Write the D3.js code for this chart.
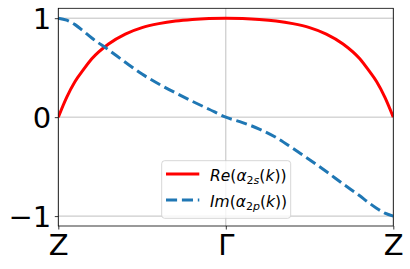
<!DOCTYPE html>
<html>
<head>
<meta charset="utf-8">
<script src="https://cdn.jsdelivr.net/npm/d3@7"></script>
<style>
  html, body { margin: 0; padding: 0; background: #fff; }
  svg { display: block; font-family: 'DejaVu Sans', sans-serif; }
</style>
</head>
<body>
<div id="canvas"></div>
<script>
// k runs from Z (-1) through Gamma (0) to Z (1)
var kValues = [-1, -0.95, -0.9, -0.85, -0.8, -0.7, -0.6, -0.5, -0.4, -0.3, -0.2, -0.1, 0,
  0.1, 0.2, 0.3, 0.4, 0.5, 0.6, 0.7, 0.8, 0.85, 0.9, 0.95, 1]
var reAlpha2s = [0, 0.2, 0.36, 0.48, 0.59, 0.74, 0.84, 0.905, 0.945, 0.972, 0.988, 0.997, 1.0,
  0.997, 0.988, 0.972, 0.945, 0.905, 0.84, 0.74, 0.59, 0.48, 0.36, 0.2, 0]
var imAlpha2p = [1.0, 0.98, 0.935, 0.87, 0.8, 0.68, 0.555, 0.435, 0.335, 0.245, 0.16, 0.08, 0,
  -0.055, -0.12, -0.205, -0.315, -0.43, -0.55, -0.675, -0.795, -0.86, -0.92, -0.97, -1.0]
var xTicks = [-1, 0, 1]
var xTickLabels = ['Z', 'Γ', 'Z']
var yTicks = [-1, 0, 1]
var yTickLabels = ['−1', '0', '1']

;(function () {
  var width = 410,
    height = 269,
    left = 58.3,
    right = 393.3,
    top = 8.3,
    bottom = 226

  var svg = d3.select('#canvas').append('svg')
    .attr('width', width)
    .attr('height', height)

  var x = d3.scaleLinear().domain([-1, 1]).range([left, right])
  var y = d3.scaleLinear().domain([-1.1, 1.1]).range([bottom, top])

  svg.append('clipPath').attr('id', 'plotclip')
    .append('rect')
    .attr('x', left).attr('y', top)
    .attr('width', right - left).attr('height', bottom - top)

  // grid
  var grid = svg.append('g').attr('stroke', '#b0b0b0').attr('stroke-width', 0.8)
  grid.selectAll('.gx').data(xTicks).enter().append('line')
    .attr('x1', function (d) { return x(d) }).attr('x2', function (d) { return x(d) })
    .attr('y1', top).attr('y2', bottom)
  grid.selectAll('.gy').data(yTicks).enter().append('line')
    .attr('x1', left).attr('x2', right)
    .attr('y1', function (d) { return y(d) }).attr('y2', function (d) { return y(d) })

  // curves
  var line = function (vals) {
    return d3.line()
      .x(function (d, i) { return x(kValues[i]) })
      .y(function (d) { return y(d) })
      .curve(d3.curveMonotoneX)(vals)
  }
  var plot = svg.append('g').attr('clip-path', 'url(#plotclip)')
  plot.append('path')
    .attr('d', line(reAlpha2s))
    .attr('fill', 'none')
    .attr('stroke', '#ff0000')
    .attr('stroke-width', 3)
  plot.append('path')
    .attr('d', line(imAlpha2p))
    .attr('fill', 'none')
    .attr('stroke', '#1f77b4')
    .attr('stroke-width', 3)
    .attr('stroke-dasharray', '11.1,4.8')

  // axes
  var xAxis = d3.axisBottom(x).tickValues(xTicks).tickSize(3.5).tickPadding(3.5)
    .tickFormat(function (d, i) { return xTickLabels[i] })
  var yAxis = d3.axisLeft(y).tickValues(yTicks).tickSize(3.5).tickPadding(3.5)
    .tickFormat(function (d, i) { return yTickLabels[i] })

  var gx = svg.append('g').attr('transform', 'translate(0,' + bottom + ')').call(xAxis)
  var gy = svg.append('g').attr('transform', 'translate(' + left + ',0)').call(yAxis)
  ;[gx, gy].forEach(function (g) {
    g.select('.domain').remove()
    g.selectAll('.tick line').attr('stroke', '#000').attr('stroke-width', 0.8)
    g.selectAll('.tick text')
      .attr('fill', '#000')
      .attr('font-family', 'DejaVu Sans')
      .attr('font-size', '29px')
  })
  gx.selectAll('.tick text').attr('dy', '0.75em')
  gy.selectAll('.tick text').attr('dy', '0.36em')

  svg.append('rect')
    .attr('x', left).attr('y', top)
    .attr('width', right - left).attr('height', bottom - top)
    .attr('fill', 'none')
    .attr('stroke', '#000')
    .attr('stroke-width', 0.8)

  // legend
  var legendItems = [
    { name: 'Re', sub: '2s', color: '#ff0000', dash: null },
    { name: 'Im', sub: '2p', color: '#1f77b4', dash: '11.1,4.8' }
  ]
  var lg = svg.append('g')
  lg.append('rect')
    .attr('x', 161.7).attr('y', 160.7)
    .attr('width', 129).attr('height', 57.6)
    .attr('rx', 3)
    .attr('fill', '#fff').attr('fill-opacity', 0.8)
    .attr('stroke', '#cccccc').attr('stroke-width', 0.8)

  var row = lg.selectAll('.row').data(legendItems).enter().append('g')
    .attr('transform', function (d, i) { return 'translate(0,' + (174 + i * 26) + ')' })
  row.append('line')
    .attr('x1', 166).attr('x2', 199.3)
    .attr('stroke', function (d) { return d.color })
    .attr('stroke-width', 3)
    .attr('stroke-dasharray', function (d) { return d.dash })
  var t = row.append('text')
    .attr('x', 210).attr('y', 6.5)
    .attr('font-family', 'DejaVu Sans')
    .attr('font-size', '15.5px')
    .attr('fill', '#000')
  t.append('tspan').attr('font-style', 'italic').text(function (d) { return d.name })
  t.append('tspan').text('(')
  t.append('tspan').attr('font-style', 'italic').text('α')
  t.append('tspan').attr('font-size', '11px').attr('dy', 3)
    .text(function (d) { return d.sub[0] })
  t.append('tspan').attr('font-size', '11px').attr('font-style', 'italic')
    .text(function (d) { return d.sub[1] })
  t.append('tspan').attr('dy', -3).text('(')
  t.append('tspan').attr('font-style', 'italic').text('k')
  t.append('tspan').text('))')
})()
</script>
</body>
</html>
